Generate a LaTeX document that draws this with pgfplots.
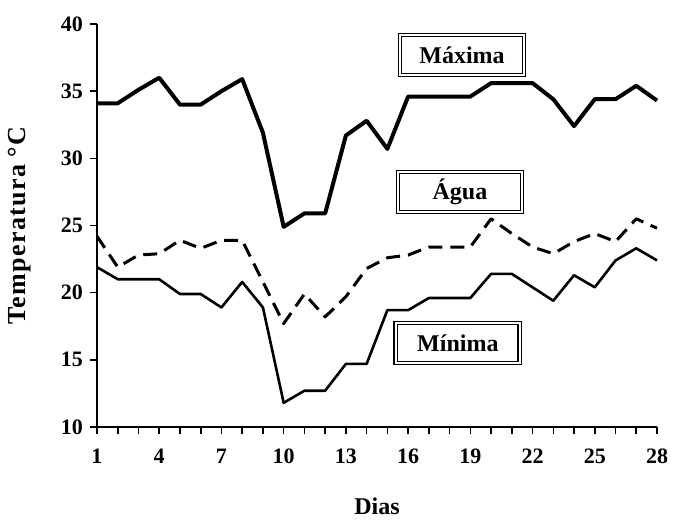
\documentclass[border=0pt]{standalone}
\usepackage{fontspec}
\setmainfont{Liberation Serif}
\usepackage{pgfplots}
\pgfplotsset{compat=1.18}
\begin{document}
\begin{tikzpicture}
\useasboundingbox (-48.5pt,-47pt) rectangle (288pt,213.5pt);
\begin{axis}[
  width=280pt, height=201.5pt, scale only axis,
  xmin=1, xmax=28, ymin=10, ymax=40,
  axis lines=left, axis line style={-, line width=1pt},
  xtick={1,4,...,28}, minor xtick={1,...,28},
  ytick={10,15,...,40},
  tick align=outside, major tick length=3.5pt, minor tick length=3.5pt,
  tick style={black, line width=0.8pt},
  /pgf/number format/assume math mode=true,
  ticklabel style={font=\fontsize{11}{13}\selectfont\bfseries},
  xticklabel style={yshift=-4pt},
  xlabel={Dias}, ylabel={Temperatura °C},
  xlabel style={at={(axis description cs:0.5,-0.196)}, anchor=center,
    font=\fontsize{12}{14}\selectfont\bfseries},
  ylabel style={at={(axis description cs:-0.139,0.5)}, anchor=center, rotate=0,
    font=\fontsize{13}{15}\selectfont\bfseries\addfontfeatures{LetterSpace=5}},
  clip=false,
]
\addplot[black, line width=2pt, line join=round] coordinates {
(1,34.1)(2,34.1)(3,35.1)(4,36.0)(5,34.0)(6,34.0)(7,35.0)(8,35.9)(9,31.9)(10,24.9)
(11,25.9)(12,25.9)(13,31.7)(14,32.8)(15,30.7)(16,34.6)(17,34.6)(18,34.6)(19,34.6)(20,35.6)
(21,35.6)(22,35.6)(23,34.4)(24,32.4)(25,34.4)(26,34.4)(27,35.4)(28,34.3)};
\addplot[black, line width=1.5pt, dash pattern=on 7pt off 4pt, line join=round] coordinates {
(1,24.2)(2,21.9)(3,22.8)(4,22.9)(5,23.9)(6,23.3)(7,23.9)(8,23.9)(9,20.8)(10,17.7)
(11,19.9)(12,18.2)(13,19.7)(14,21.8)(15,22.6)(16,22.8)(17,23.4)(18,23.4)(19,23.4)(20,25.5)
(21,24.4)(22,23.4)(23,22.9)(24,23.8)(25,24.4)(26,23.8)(27,25.5)(28,24.8)};
\addplot[black, line width=1.3pt, line join=round] coordinates {
(1,21.9)(2,21.0)(3,21.0)(4,21.0)(5,19.9)(6,19.9)(7,18.9)(8,20.8)(9,18.9)(10,11.8)
(11,12.7)(12,12.7)(13,14.7)(14,14.7)(15,18.7)(16,18.7)(17,19.6)(18,19.6)(19,19.6)(20,21.4)
(21,21.4)(22,20.4)(23,19.4)(24,21.3)(25,20.4)(26,22.4)(27,23.3)(28,22.4)};
\tikzset{lab/.style={draw, line width=0.7pt, double, double distance=1pt, fill=white,
  minimum width=62pt, minimum height=20pt, inner sep=1pt,
  font=\fontsize{12}{14}\selectfont\bfseries}}
\node[lab] at (axis cs:18.6,37.7) {Máxima};
\node[lab] at (axis cs:18.5,27.5) {Água};
\node[lab] at (axis cs:18.4,16.25) {Mínima};
\end{axis}
\end{tikzpicture}
\end{document}
